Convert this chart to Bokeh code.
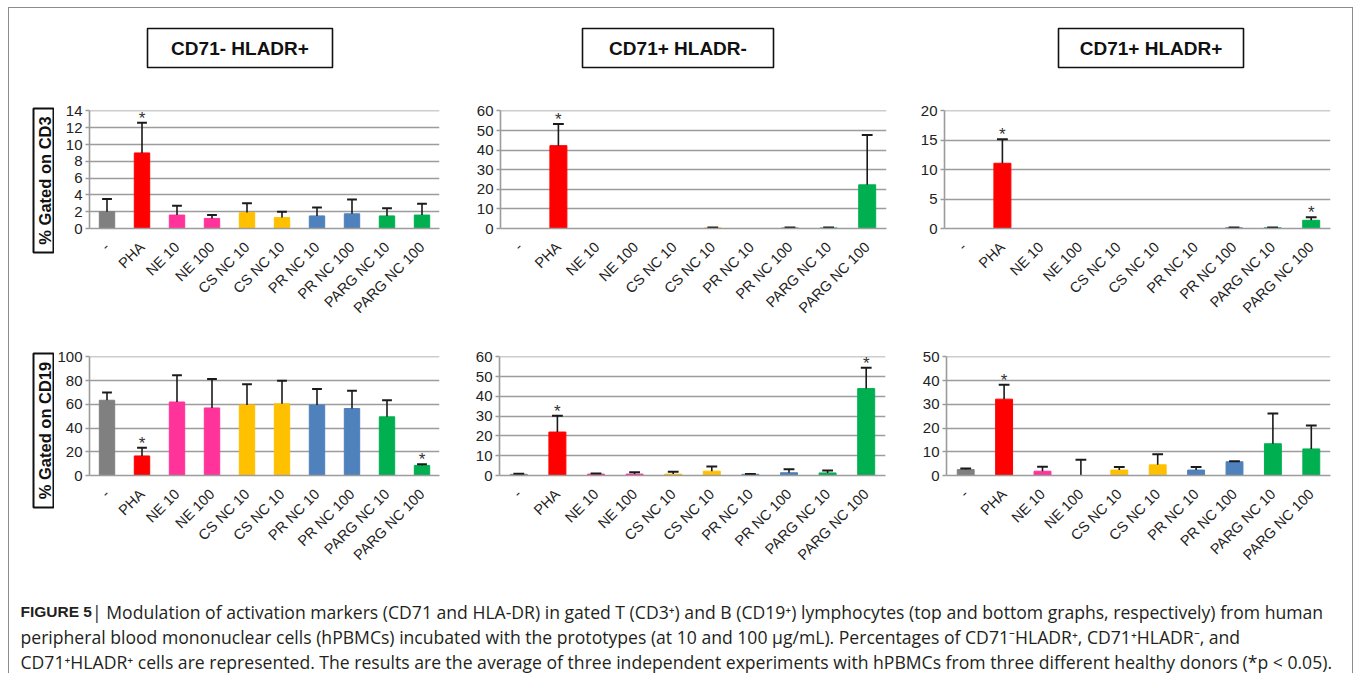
import math
from bokeh.plotting import figure
from bokeh.layouts import column, row
from bokeh.models import Range1d, FixedTicker, ColumnDataSource
from bokeh.core.properties import value
from bokeh.embed import file_html
from bokeh.resources import INLINE

# ---------------- data ----------------
categories = ["-", "PHA", "NE 10", "NE 100", "CS NC 10", "CS NC 10",
              "PR NC 10", "PR NC 100", "PARG NC 10", "PARG NC 100"]
bar_colors = ["#808080", "#ff0000", "#ff3399", "#ff3399", "#ffc000", "#ffc000",
              "#4f81bd", "#4f81bd", "#00b050", "#00b050"]
panel_titles = ["CD71- HLADR+", "CD71+ HLADR-", "CD71+ HLADR+"]
row_labels = ["% Gated on CD3", "% Gated on CD19"]

# CD3 (T cells)
cd3_neg_pos = [2.0, 9.0, 1.6, 1.2, 1.9, 1.3, 1.5, 1.75, 1.5, 1.6]
cd3_neg_pos_sd = [1.5, 3.6, 1.1, 0.4, 1.1, 0.7, 1.0, 1.7, 0.9, 1.35]
cd3_neg_pos_star = [1]

cd3_pos_neg = [0, 42.3, 0, 0, 0, 0.3, 0, 0.3, 0.3, 22.3]
cd3_pos_neg_sd = [0, 11.0, 0, 0, 0, 0.2, 0, 0.2, 0.2, 25.4]
cd3_pos_neg_star = [1]

cd3_pos_pos = [0, 11.1, 0, 0, 0, 0, 0, 0.12, 0.12, 1.4]
cd3_pos_pos_sd = [0, 4.1, 0, 0, 0, 0, 0, 0.05, 0.05, 0.5]
cd3_pos_pos_star = [1, 9]

# CD19 (B cells)
cd19_neg_pos = [63.5, 16.5, 62.0, 57.0, 59.5, 60.5, 59.5, 56.5, 49.5, 8.5]
cd19_neg_pos_sd = [6.5, 7.0, 22.5, 24.5, 17.5, 19.5, 13.5, 15.0, 14.0, 1.0]
cd19_neg_pos_star = [1, 9]

cd19_pos_neg = [0.6, 22.0, 0.7, 0.7, 0.7, 2.2, 0.6, 1.4, 1.3, 44.0]
cd19_pos_neg_sd = [0.3, 8.2, 0.3, 0.9, 1.2, 2.3, 0.2, 1.8, 1.2, 10.5]
cd19_pos_neg_star = [1, 9]

cd19_pos_pos = [2.5, 32.2, 1.8, 0, 2.3, 4.5, 2.3, 5.8, 13.4, 11.2]
cd19_pos_pos_sd = [0.5, 6.1, 1.9, 6.6, 1.3, 4.5, 1.3, 0.2, 12.8, 9.9]
cd19_pos_pos_star = [1]

y_max = [[14, 60, 20], [100, 60, 50]]
y_step = [[2, 10, 5], [20, 10, 10]]

caption_bold = "FIGURE 5"
caption_lines = [
    (" | Modulation of activation markers (CD71 and HLA-DR) in gated T (CD3\u207a) and B (CD19\u207a) "
     "lymphocytes (top and bottom graphs, respectively) from human"),
    ("peripheral blood mononuclear cells (hPBMCs) incubated with the prototypes (at 10 and 100 \u03bcg/mL). "
     "Percentages of CD71\u207bHLADR\u207a, CD71\u207aHLADR\u207b, and"),
    ("CD71\u207aHLADR\u207a cells are represented. The results are the average of three independent "
     "experiments with hPBMCs from three different healthy donors (*p < 0.05)."),
]

FONT = "Liberation Sans"
CAP_FONT = "Open Sans"
GRID = "#9c9c9c"
BORDER = "1px solid #8c8c8c"

# ---------------- layout constants ----------------
LABEL_W = 45
TITLE_H = 86
ROW_H = [245, 240]
CAP_H = 94
PANEL_W = [[397, 440, 461], [397, 440, 461]]
BL = [[35, 49, 53], [35, 48, 55]]
BR = [[12, 5, 22], [12, 6, 22]]
BT = [16, 17]
BB = [ROW_H[0] - 16 - 118, ROW_H[1] - 17 - 119]


def bare(w, h, xr, yr):
    f = figure(width=w, height=h, x_range=xr, y_range=yr, output_backend="svg",
               toolbar_location=None, min_border=0, x_axis_type=None, y_axis_type=None)
    f.grid.visible = False
    f.outline_line_color = None
    return f


def panel(vals, sds, stars, ymax, ystep, w, h, bl, br, bt, bb):
    p = figure(width=w, height=h, x_range=Range1d(-0.5, 9.5), y_range=Range1d(0, ymax * 1.004),
               output_backend="svg", toolbar_location=None,
               min_border_left=bl, min_border_right=br, min_border_top=bt, min_border_bottom=bb)
    p.outline_line_color = None
    xs = list(range(len(categories)))
    src = ColumnDataSource(dict(x=xs, top=vals, color=bar_colors))
    p.vbar(x="x", top="top", width=0.44, bottom=0, fill_color="color", line_color="color", source=src)
    ex = [x for x, s in zip(xs, sds) if s > 0]
    ev = [v for v, s in zip(vals, sds) if s > 0]
    eu = [v + s for v, s in zip(vals, sds) if s > 0]
    p.segment(x0=ex, y0=ev, x1=ex, y1=eu, line_color="#1a1a1a", line_width=1.6)
    p.segment(x0=[x - 0.14 for x in ex], y0=eu, x1=[x + 0.14 for x in ex], y1=eu,
              line_color="#1a1a1a", line_width=2)
    sx = [xs[i] for i in stars]
    sy = [vals[i] + sds[i] for i in stars]
    p.text(x=sx, y=sy, text=["*"] * len(sx), text_align="center", text_baseline="bottom",
           y_offset=5, text_font=value(FONT), text_font_size="17px", text_color="#333333")
    ticks = list(range(0, ymax + 1, ystep))
    p.yaxis.ticker = FixedTicker(ticks=ticks)
    p.ygrid.ticker = FixedTicker(ticks=ticks)
    p.xgrid.visible = False
    p.ygrid.grid_line_color = GRID
    p.ygrid.grid_line_width = 1.6
    p.yaxis.axis_line_color = GRID
    p.yaxis.axis_line_width = 1.6
    p.yaxis.major_tick_line_color = GRID
    p.yaxis.major_tick_line_width = 1.5
    p.yaxis.major_tick_out = 4
    p.yaxis.major_tick_in = 0
    p.yaxis.minor_tick_line_color = None
    p.yaxis.major_label_standoff = 3
    p.yaxis.major_label_text_font = FONT
    p.yaxis.major_label_text_font_size = "15px"
    p.yaxis.major_label_text_color = "#222222"
    p.xaxis.ticker = FixedTicker(ticks=xs)
    p.xaxis.major_label_overrides = {i: c for i, c in enumerate(categories)}
    p.xaxis.major_label_orientation = math.pi / 4
    p.xaxis.major_tick_line_color = None
    p.xaxis.minor_tick_line_color = None
    p.xaxis.axis_line_color = GRID
    p.xaxis.axis_line_width = 1.6
    p.xaxis.major_label_standoff = 10
    p.xaxis.major_label_text_font = FONT
    p.xaxis.major_label_text_font_size = "14.5px"
    p.xaxis.major_label_text_color = "#222222"
    return p


total_w = LABEL_W + sum(PANEL_W[0])
body_h = ROW_H[0] + ROW_H[1]

# title strip
title_fig = bare(total_w, TITLE_H, Range1d(0, total_w), Range1d(TITLE_H, 0))
title_x = [230.5, 668.5, 1141.5]
title_w = [185, 191, 185]
title_fig.rect(x=title_x, y=[39.5] * 3, width=title_w, height=39, fill_color="white",
               line_color="#111111", line_width=1.6)
title_fig.text(x=title_x, y=[40] * 3, text=panel_titles, text_align="center",
               text_baseline="middle", text_font=value(FONT), text_font_style="bold",
               text_font_size="19px", text_color="#111111")

# y-label strip spanning both rows
lab = bare(LABEL_W, body_h, Range1d(0, LABEL_W), Range1d(body_h, 0))
lab_y = [86, ROW_H[0] + 91]
lab_h = [144, 154]
lab.rect(x=[34, 34], y=lab_y, width=20, height=lab_h, fill_color="white",
         line_color="#111111", line_width=2)
lab.text(x=[35, 35], y=lab_y, text=row_labels, angle=math.pi / 2, text_align="center",
         text_baseline="middle", text_font=value(FONT), text_font_style="bold",
         text_font_size="16.5px", text_color="#111111")

data = [
    [(cd3_neg_pos, cd3_neg_pos_sd, cd3_neg_pos_star),
     (cd3_pos_neg, cd3_pos_neg_sd, cd3_pos_neg_star),
     (cd3_pos_pos, cd3_pos_pos_sd, cd3_pos_pos_star)],
    [(cd19_neg_pos, cd19_neg_pos_sd, cd19_neg_pos_star),
     (cd19_pos_neg, cd19_pos_neg_sd, cd19_pos_neg_star),
     (cd19_pos_pos, cd19_pos_pos_sd, cd19_pos_pos_star)],
]

rows = []
for r in range(2):
    kids = []
    for c in range(3):
        v, s, st = data[r][c]
        kids.append(panel(v, s, st, y_max[r][c], y_step[r][c], PANEL_W[r][c], ROW_H[r],
                          BL[r][c], BR[r][c], BT[r], BB[r]))
    rows.append(row(*kids))

# caption
cap = bare(total_w, CAP_H, Range1d(0, total_w), Range1d(CAP_H, 0))
BOLD_FS = 15.5
CAP_FS = 17.6
bold_w = (611 + 278 + 778 + 722 + 722 + 667 + 278 + 556) / 1000 * BOLD_FS
cap.text(x=[11], y=[32], text=[caption_bold], text_align="left", text_baseline="middle",
         text_font=value(FONT), text_font_style="bold", text_font_size=f"{BOLD_FS}px",
         text_color="#231f20")
cap.text(x=[11 + bold_w, 11, 11], y=[32, 57, 82], text=caption_lines, text_align="left",
         text_baseline="middle", text_font=value(CAP_FONT), text_font_size=f"{CAP_FS}px",
         text_color="#231f20")

body = row(lab, column(*rows))
layout = column(title_fig, body, cap,
                styles={"border-top": BORDER, "border-left": BORDER, "border-right": BORDER,
                        "margin-left": "8px", "margin-top": "7px"})

open("out.html", "w").write(file_html(layout, INLINE))
